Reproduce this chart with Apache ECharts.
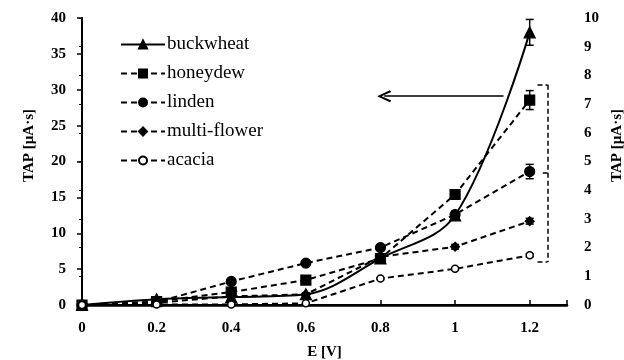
<!DOCTYPE html>
<html><head><meta charset="utf-8">
<script src="https://cdn.jsdelivr.net/npm/echarts@6/dist/echarts.min.js"></script>
<style>html,body{margin:0;padding:0;background:#fff}#c{width:624px;height:360px}</style>
</head><body><div id="c"></div>
<script>
const E = [0, 0.2, 0.4, 0.6, 0.8, 1.0, 1.2];
const xTicks = ['0','0.2','0.4','0.6','0.8','1','1.2'];
// left axis (buckwheat)
const buckwheat = [0, 0.8, 1.1, 1.5, 6.5, 12.5, 38.0];
const buckwheatErr = [0, 0.1, 0.15, 0.2, 0.4, 0.6, 1.8];
// right axis
const honeydew = [0, 0.12, 0.45, 0.87, 1.62, 3.85, 7.14];
const honeydewErr = [0, 0.02, 0.05, 0.05, 0.08, 0.12, 0.33];
const linden = [0, 0.1, 0.82, 1.46, 2.0, 3.15, 4.65];
const lindenErr = [0, 0.02, 0.05, 0.06, 0.08, 0.1, 0.25];
const multiFlower = [0, 0.08, 0.3, 0.37, 1.68, 2.03, 2.92];
const multiFlowerErr = [0, 0.01, 0.03, 0.03, 0.06, 0.08, 0.1];
const acacia = [0, 0.02, 0.02, 0.06, 0.92, 1.26, 1.73];
const acaciaErr = [0, 0.01, 0.01, 0.01, 0.03, 0.04, 0.05];
// annotations (data coordinates)
const arrowLeft = [[1.13, 29.1], [0.81, 29.1]];
const bracket = {x: 1.248, xHook: 1.221, xMid: 1.235, top: 7.67, bottom: 1.5, mid: 4.6};

const font = 'Liberation Serif, Times New Roman, serif';
const chart = echarts.init(document.getElementById('c'));
const pts = (v) => E.map((x, i) => [x, v[i]]);
const errPts = (v, e) => E.map((x, i) => [x, v[i], e[i]]);
function errSeries(name, v, e, yi) {
  return {
    type: 'custom', name: name + '_err', yAxisIndex: yi, z: 1, silent: true,
    data: errPts(v, e), encode: {x: 0, y: 1},
    renderItem: function (params, api) {
      const x = api.value(0), y = api.value(1), er = api.value(2);
      if (!er) return null;
      const top = api.coord([x, y + er]), bot = api.coord([x, y - er]);
      const st = {stroke: '#000', lineWidth: 1.5};
      return {type: 'group', children: [
        {type: 'line', shape: {x1: top[0], y1: top[1], x2: bot[0], y2: bot[1]}, style: st},
        {type: 'line', shape: {x1: top[0] - 4, y1: top[1], x2: top[0] + 4, y2: top[1]}, style: st},
        {type: 'line', shape: {x1: bot[0] - 4, y1: bot[1], x2: bot[0] + 4, y2: bot[1]}, style: st}
      ]};
    }
  };
}
const dash = [6, 4];
const lineSeries = (name, v, yi, symbol, size, dashed, extra) => Object.assign({
  type: 'line', name: name, yAxisIndex: yi, data: pts(v), symbol: symbol, symbolSize: size,
  lineStyle: {color: '#000', width: 2, type: dashed ? dash : 'solid'},
  itemStyle: {color: '#000', borderColor: '#000', borderWidth: 1.2}, z: 3
}, extra || {});

chart.setOption({
  animation: false,
  backgroundColor: '#fff',
  grid: {left: 82, right: 57, top: 18, bottom: 55, outerBoundsMode: 'none', containLabel: false},
  legend: {
    orient: 'vertical', left: 115, top: 30, itemWidth: 44, itemHeight: 10, itemGap: 10,
    textStyle: {fontFamily: font, fontSize: 19, color: '#000', padding: [0, 0, 0, -3]},
    data: ['buckwheat', 'honeydew', 'linden', 'multi-flower', 'acacia']
  },
  xAxis: [{
    type: 'value', min: 0, max: 1.3, interval: 0.2,
    name: 'E [V]', nameLocation: 'middle', nameGap: 40,
    nameTextStyle: {fontFamily: font, fontSize: 15, fontWeight: 'bold', color: '#000'},
    axisLine: {show: true, lineStyle: {color: '#000', width: 2.5}},
    axisTick: {show: true, inside: true, length: 5, lineStyle: {color: '#000', width: 1.5}},
    axisLabel: {margin: 16, fontFamily: font, fontSize: 15, fontWeight: 'bold', color: '#000',
      formatter: (v) => { const i = E.findIndex(e => Math.abs(e - v) < 1e-6); return i >= 0 ? xTicks[i] : ''; }},
    splitLine: {show: false}
  }, {
    type: 'value', position: 'top', min: 0, max: 1.3,
    axisLine: {show: true, lineStyle: {color: '#000', width: 2}},
    axisTick: {show: false}, axisLabel: {show: false}, splitLine: {show: false}
  }],
  yAxis: [{
    type: 'value', min: 0, max: 40, interval: 5, position: 'left',
    name: 'TAP [µA·s]', nameLocation: 'middle', nameGap: 45,
    nameTextStyle: {fontFamily: font, fontSize: 15, fontWeight: 'bold', color: '#000', padding: [0, 0, 0, 32]},
    axisLine: {show: true, lineStyle: {color: '#000', width: 2}},
    axisTick: {show: true, length: 5, lineStyle: {color: '#000', width: 1.5}},
    axisLabel: {margin: 16, fontFamily: font, fontSize: 15, fontWeight: 'bold', color: '#000'},
    splitLine: {show: false}
  }, {
    type: 'value', min: 0, max: 10, interval: 1, position: 'right',
    name: 'TAP [µA·s]', nameLocation: 'middle', nameGap: 37,
    nameTextStyle: {fontFamily: font, fontSize: 15, fontWeight: 'bold', color: '#000', padding: [0, 0, 0, 32]},
    axisLine: {show: true, lineStyle: {color: '#000', width: 2, type: [6, 4]}},
    axisTick: {show: true, inside: true, length: 3, lineStyle: {color: '#000', width: 1}},
    axisLabel: {margin: 17, fontFamily: font, fontSize: 15, fontWeight: 'bold', color: '#000'},
    splitLine: {show: false}
  }],
  series: [
    errSeries('buckwheat', buckwheat, buckwheatErr, 0),
    errSeries('honeydew', honeydew, honeydewErr, 1),
    errSeries('linden', linden, lindenErr, 1),
    errSeries('multi-flower', multiFlower, multiFlowerErr, 1),
    errSeries('acacia', acacia, acaciaErr, 1),
    lineSeries('buckwheat', buckwheat, 0, 'triangle', 11, false, {
      smooth: 0.35,
      markLine: {silent: true, symbol: ['none', 'path://M0,10 L5,0 L10,10 L8.6,11 L5,3.5 L1.4,11 Z'], symbolSize: [12, 14],
        label: {show: false}, lineStyle: {color: '#000', width: 1.5, type: 'solid'},
        data: [[{coord: arrowLeft[0]}, {coord: arrowLeft[1]}]]}
    }),
    lineSeries('honeydew', honeydew, 1, 'rect', 10, true),
    lineSeries('linden', linden, 1, 'circle', 10, true),
    lineSeries('multi-flower', multiFlower, 1, 'diamond', 9, true),
    lineSeries('acacia', acacia, 1, 'circle', 7, true, {
      itemStyle: {color: '#fff', borderColor: '#000', borderWidth: 1.5},
      markLine: {silent: true, symbol: ['none', 'none'], label: {show: false},
        lineStyle: {color: '#000', width: 1.5, type: [5, 3]},
        data: [
          [{coord: [bracket.x, bracket.top]}, {coord: [bracket.x, bracket.bottom]}],
          [{coord: [bracket.xHook, bracket.top]}, {coord: [bracket.x, bracket.top]}],
          [{coord: [bracket.xHook, bracket.bottom]}, {coord: [bracket.x, bracket.bottom]}],
          [{coord: [bracket.xMid, bracket.mid]}, {coord: [bracket.x, bracket.mid]}]
        ]}
    })
  ]
});
</script></body></html>
